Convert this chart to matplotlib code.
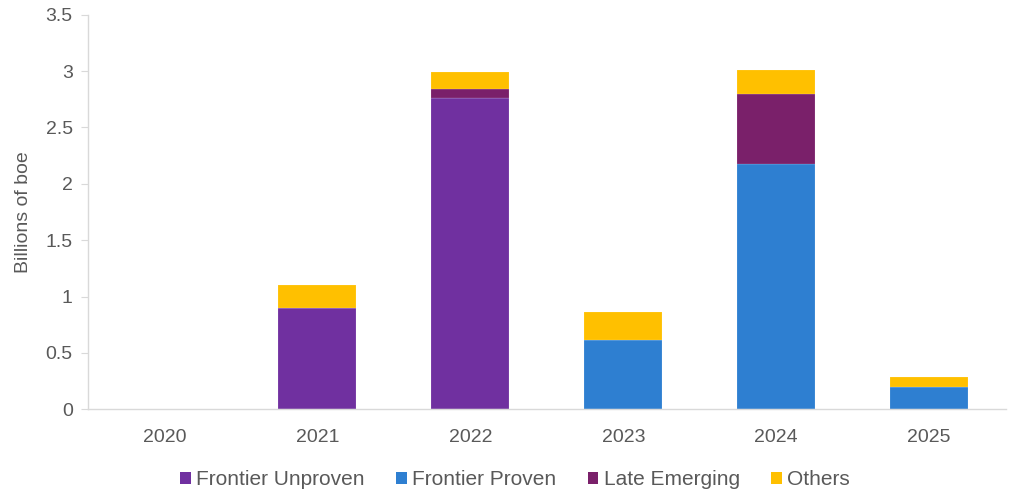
import numpy as np
import matplotlib.pyplot as plt
from matplotlib.patches import Patch

plt.rcParams['font.family'] = ['Liberation Sans', 'DejaVu Sans']

years = ['2020', '2021', '2022', '2023', '2024', '2025']
frontier_unproven = [0, 0.90, 2.76, 0, 0, 0]
frontier_proven = [0, 0, 0, 0.61, 2.18, 0.20]
late_emerging = [0, 0, 0.08, 0, 0.62, 0]
others = [0, 0.20, 0.15, 0.25, 0.21, 0.09]

series = [
    ('Frontier Unproven', frontier_unproven, '#7030A0'),
    ('Frontier Proven', frontier_proven, '#2E7FD1'),
    ('Late Emerging', late_emerging, '#7A206A'),
    ('Others', others, '#FFC000'),
]

fig = plt.figure(figsize=(10.14, 4.93), dpi=100)
ax = fig.add_axes([0.0868, 0.170, 0.905, 0.800])

x = np.arange(len(years))
bottom = np.zeros(len(years))
for name, vals, color in series:
    vals = np.array(vals)
    ax.bar(x, vals, 0.51, bottom=bottom, color=color, edgecolor='#ffffff55', linewidth=0.3)
    bottom += vals

ax.set_xlim(-0.5, len(years) - 0.5)
ax.set_ylim(0, 3.5)
ax.set_yticks(np.arange(0, 3.51, 0.5))
ax.set_yticklabels(['0', '0.5', '1', '1.5', '2', '2.5', '3', '3.5'])
ax.set_xticks(x)
ax.set_xticklabels(years)
ax.tick_params(axis='both', colors='#D9D9D9', labelcolor='#595959', labelsize=14)
ax.tick_params(axis='x', length=0, pad=14)
ax.tick_params(axis='y', length=5, pad=6)
ax.set_ylabel('Billions of boe', color='#595959', fontsize=14, labelpad=10)

for s in ['top', 'right']:
    ax.spines[s].set_visible(False)
for s in ['left', 'bottom']:
    ax.spines[s].set_color('#D9D9D9')
    ax.spines[s].set_linewidth(1)

handles = [Patch(facecolor=c, edgecolor='none', label=n) for n, _, c in series]
fig.legend(handles=handles, loc='center', bbox_to_anchor=(0.508, 0.027), ncol=4,
           frameon=False, fontsize=15, handlelength=0.52, handleheight=0.52,
           handletextpad=0.25, columnspacing=1.5, labelcolor='#595959')

fig.savefig('out.png', dpi=100)
